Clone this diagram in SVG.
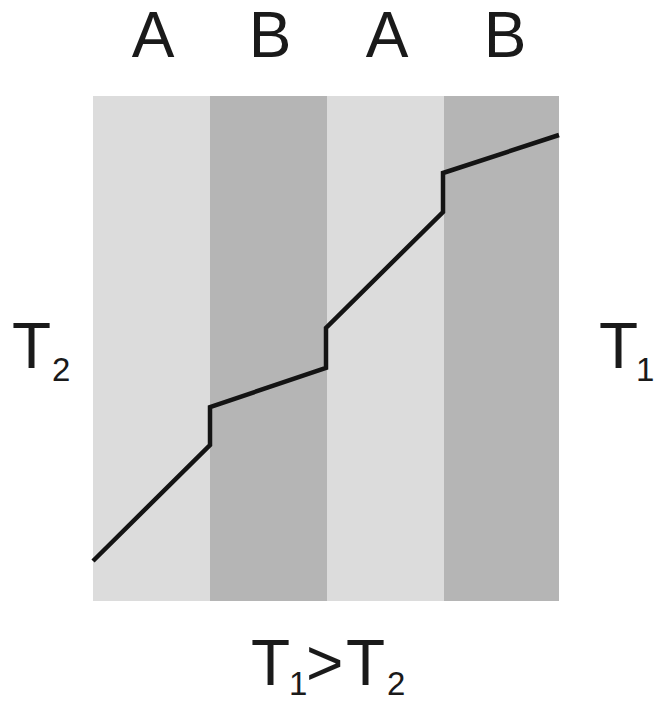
<svg xmlns="http://www.w3.org/2000/svg" width="663" height="702" viewBox="0 0 663 702">
<style>
.a{fill:#dcdcdc}
.b{fill:#b5b5b5}
.t{font-family:"Liberation Sans",Arial,sans-serif;fill:#1a1a1a}
.big{font-size:64px}
.sub{font-size:33px}
.curve{fill:none;stroke:#141414;stroke-width:4.5;stroke-linejoin:miter}
</style>
<rect width="663" height="702" fill="#ffffff"/>
<g id="bands">
<rect class="a" x="93" y="96" width="117" height="505"/>
<rect class="b" x="210" y="96" width="117" height="505"/>
<rect class="a" x="327" y="96" width="117" height="505"/>
<rect class="b" x="444" y="96" width="115" height="505"/>
</g>
<g id="labels-top" class="t big" text-anchor="middle">
<text x="153" y="57">A</text>
<text x="270" y="57">B</text>
<text x="387" y="57">A</text>
<text x="505" y="57">B</text>
</g>
<g id="connectors">
<polyline class="curve" points="93,561 210,445 210,407 326,368 326,328 443,212 443,173 559,135"/>
</g>
<g id="T2" class="t">
<text class="big" x="12" y="368">T</text>
<text class="sub" x="52" y="381">2</text>
</g>
<g id="T1" class="t">
<text class="big" x="599" y="368">T</text>
<text class="sub" x="636" y="381">1</text>
</g>
<g id="caption" class="t">
<text class="big" x="251" y="685">T</text>
<text class="sub" x="289" y="695">1</text>
<text class="big" x="306" y="685">&gt;</text>
<text class="big" x="346" y="685">T</text>
<text class="sub" x="387" y="695">2</text>
</g>
</svg>
